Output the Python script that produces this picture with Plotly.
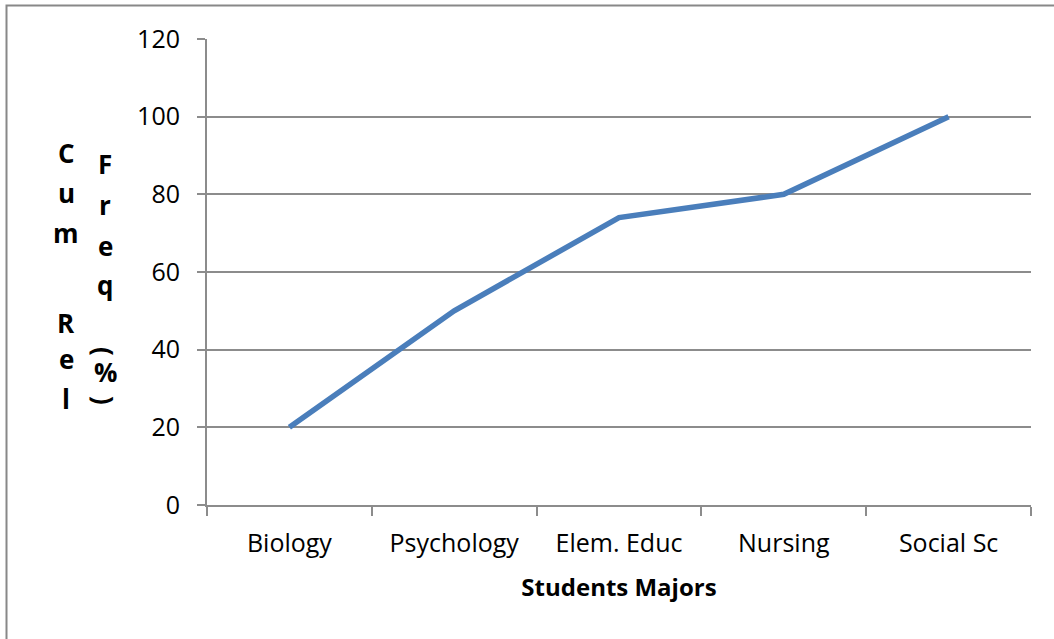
import plotly.graph_objects as go

majors = ["Biology", "Psychology", "Elem. Educ", "Nursing", "Social Sc"]
cum_rel_freq = [20, 50, 74, 80, 100]
y_ticks = [0, 20, 40, 60, 80, 100, 120]

W, H = 1054, 639
L, R, T, B = 207, 23, 39, 134
PW, PH = W - L - R, H - T - B

def px(x):
    return (x - L) / PW

def py(y):
    return (H - B - y) / PH

fig = go.Figure()
fig.add_trace(go.Scatter(
    x=majors, y=cum_rel_freq, mode="lines",
    line=dict(color="#4a7ebb", width=5.5),
    showlegend=False, hoverinfo="x+y",
))

font_family = "Open Sans, Noto Sans, sans-serif"
grid = "#8c8c8c"

fig.update_layout(
    width=W, height=H,
    margin=dict(l=L, r=R, t=T, b=B, autoexpand=False),
    paper_bgcolor="white", plot_bgcolor="white",
    font=dict(family=font_family, size=25, color="black"),
    xaxis=dict(
        type="category", range=[-0.5, len(majors) - 0.5], automargin=False,
        showgrid=False, showline=True, linecolor=grid, linewidth=2,
        ticks="outside", tickson="boundaries", ticklen=9, tickwidth=2, tickcolor=grid,
        tickfont=dict(size=25), ticklabelstandoff=15,
        title=dict(text="<b>Students Majors</b>", font=dict(size=24), standoff=21),
    ),
    yaxis=dict(
        range=[0, 120], tickvals=y_ticks, automargin=False,
        showgrid=True, gridcolor=grid, gridwidth=1.5,
        showline=True, linecolor=grid, linewidth=2, zeroline=False,
        ticks="outside", ticklen=8, tickwidth=2, tickcolor=grid,
        tickfont=dict(size=25), ticklabelstandoff=12,
    ),
)

# stacked y-axis title letters
col1 = [("C", 153), ("u", 193), ("m", 233), ("R", 323), ("e", 359), ("l", 399)]
col2 = [("F", 164), ("r", 205), ("e", 246), ("q", 285), ("%", 372)]
ann = []
for ch, y in col1:
    ann.append(dict(x=px(66), y=py(y), text="<b>%s</b>" % ch))
for ch, y in col2:
    ann.append(dict(x=px(105), y=py(y), text="<b>%s</b>" % ch))
ann.append(dict(x=px(104), y=py(351), text="<b>(</b>", textangle=90))
ann.append(dict(x=px(104), y=py(400), text="<b>)</b>", textangle=90))
for a in ann:
    a.update(xref="paper", yref="paper", showarrow=False, xanchor="center", yanchor="middle",
             font=dict(size=26, family=font_family, color="black"))
fig.update_layout(annotations=ann)

# outer chart frame
fig.add_shape(type="rect", xref="paper", yref="paper",
              x0=px(6.5), x1=px(W + 20), y0=py(H + 20), y1=py(5.5),
              line=dict(color="#888888", width=2), fillcolor="rgba(0,0,0,0)", layer="below")

fig.write_html("out.html", config={"displayModeBar": False},
               post_script="document.body.style.margin='0';document.body.style.overflow='hidden';")
